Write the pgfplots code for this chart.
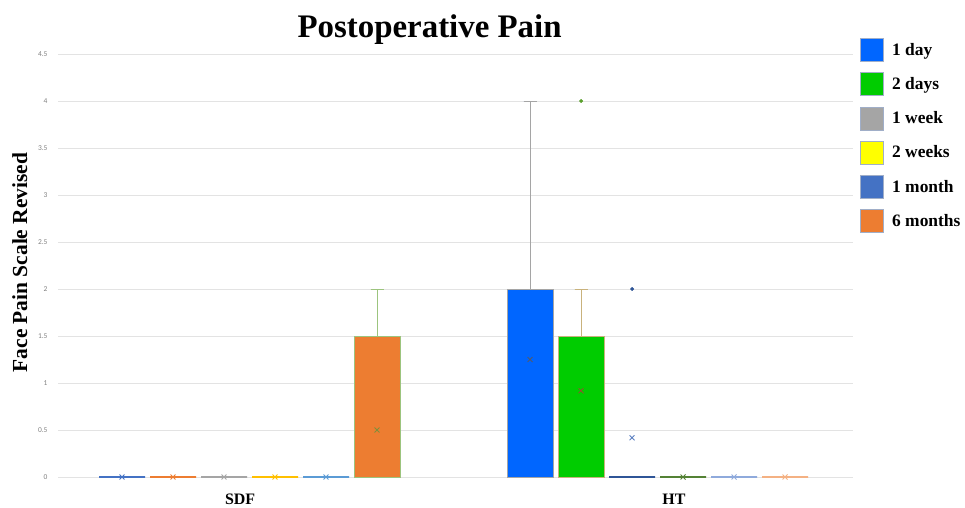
\documentclass[border=0pt]{standalone}
\usepackage{fontspec}
\setmainfont{Liberation Serif}
\newfontfamily\tickfont{Carlito}
\usepackage{pgfplots}
\pgfplotsset{compat=1.18}
\usepgfplotslibrary{statistics}
\definecolor{fday}{HTML}{0066FF}
\definecolor{fdays}{HTML}{00CC00}
\definecolor{fweek}{HTML}{A5A5A5}
\definecolor{fweeks}{HTML}{FFFF00}
\definecolor{fmonth}{HTML}{4472C4}
\definecolor{fmonths}{HTML}{ED7D31}
\definecolor{lgborder}{HTML}{A0AEC8}
\definecolor{sA}{HTML}{4472C4}
\definecolor{sB}{HTML}{ED7D31}
\definecolor{sC}{HTML}{A5A5A5}
\definecolor{sD}{HTML}{FFC000}
\definecolor{sE}{HTML}{5B9BD5}
\definecolor{sF}{HTML}{9CC47E}
\definecolor{sFx}{HTML}{7F8F3A}
\definecolor{hA}{HTML}{A5A5A5}
\definecolor{hAx}{HTML}{505A70}
\definecolor{hB}{HTML}{C9B27C}
\definecolor{hBx}{HTML}{8B5A2B}
\definecolor{hBo}{HTML}{5BA02E}
\definecolor{hC}{HTML}{2F5597}
\definecolor{hCx}{HTML}{5B7FC0}
\definecolor{hD}{HTML}{548235}
\definecolor{hE}{HTML}{8FAADC}
\definecolor{hF}{HTML}{F4B183}
\definecolor{gridc}{HTML}{E3E3E3}
\begin{document}
\begin{tikzpicture}
\path[use as bounding box] (-58bp,-31bp) rectangle (907bp,477bp);
\begin{axis}[
  at={(0,0)}, anchor=south west,
  scale only axis, width=795bp, height=423bp,
  xmin=-0.4694, xmax=1.479, ymin=0, ymax=4.5,
  clip=false,
  ytick={0,0.5,1,1.5,2,2.5,3,3.5,4,4.5},
  xtick={-0.023,1.04}, xticklabels={SDF,HT},
  axis line style={draw=none},
  major tick length=0pt,
  ymajorgrids, major grid style={draw=gridc, line width=0.8bp},
  /pgf/number format/assume math mode=true,
  yticklabel style={font=\tickfont\fontsize{7.5}{9}\selectfont, text=gray, xshift=-7bp},
  xticklabel style={font=\fontsize{16}{18}\selectfont\bfseries, anchor=base, yshift=-27bp},
  ylabel={Face Pain Scale Revised},
  ylabel style={at={(axis description cs:-0.048,0.507)}, anchor=center, font=\fontsize{21.5}{24}\selectfont\bfseries},
  title={Postoperative Pain},
  title style={at={(axis description cs:0.4674,1.026)}, anchor=base, yshift=0pt, font=\fontsize{33}{36}\selectfont\bfseries},
  legend image code/.code={\draw[#1, line width=0.7bp] (0bp,-11.5bp) rectangle (23bp,11.5bp);},
  legend style={draw=none, fill=none, at={(axis description cs:1.0085,1.038)}, anchor=north west,
    font=\fontsize{17.5}{20}\selectfont\bfseries, row sep=10.5bp, inner sep=0pt,
    nodes={inner sep=1.5pt},
    /tikz/every odd column/.append style={column sep=7bp}},
  legend cell align=left,
  boxplot/draw direction=y,
  boxplot/box extend=0.1127,
  boxplot/whisker extend=0.032,
]
\addlegendimage{fill=fday, draw=lgborder}\addlegendentry{1 day}
\addlegendimage{fill=fdays, draw=lgborder}\addlegendentry{2 days}
\addlegendimage{fill=fweek, draw=lgborder}\addlegendentry{1 week}
\addlegendimage{fill=fweeks, draw=lgborder}\addlegendentry{2 weeks}
\addlegendimage{fill=fmonth, draw=lgborder}\addlegendentry{1 month}
\addlegendimage{fill=fmonths, draw=lgborder}\addlegendentry{6 months}

% ---------- SDF ----------
\addplot[forget plot, draw=sA, fill=fday, line width=1.3bp, boxplot prepared={draw position=-0.3125,
  lower whisker=0, lower quartile=0, median=0, upper quartile=0, upper whisker=0}] coordinates {};
\addplot[forget plot, draw=sB, fill=fdays, line width=1.3bp, boxplot prepared={draw position=-0.1875,
  lower whisker=0, lower quartile=0, median=0, upper quartile=0, upper whisker=0}] coordinates {};
\addplot[forget plot, draw=sC, fill=fweek, line width=1.3bp, boxplot prepared={draw position=-0.0625,
  lower whisker=0, lower quartile=0, median=0, upper quartile=0, upper whisker=0}] coordinates {};
\addplot[forget plot, draw=sD, fill=fweeks, line width=1.3bp, boxplot prepared={draw position=0.0625,
  lower whisker=0, lower quartile=0, median=0, upper quartile=0, upper whisker=0}] coordinates {};
\addplot[forget plot, draw=sE, fill=fmonth, line width=1.3bp, boxplot prepared={draw position=0.1875,
  lower whisker=0, lower quartile=0, median=0, upper quartile=0, upper whisker=0}] coordinates {};
\addplot[forget plot, draw=sF, fill=fmonths, line width=1.0bp, boxplot prepared={draw position=0.3125,
  lower whisker=0, lower quartile=0, median=0, upper quartile=1.5, upper whisker=2}] coordinates {};

% ---------- HT ----------
\addplot[forget plot, draw=hA, fill=fday, line width=1.0bp, boxplot prepared={draw position=0.6875,
  lower whisker=0, lower quartile=0, median=0, upper quartile=2, upper whisker=4}] coordinates {};
\addplot[forget plot, draw=hB, fill=fdays, line width=1.0bp, boxplot prepared={draw position=0.8125,
  lower whisker=0, lower quartile=0, median=0, upper quartile=1.5, upper whisker=2}] coordinates {};
\addplot[forget plot, draw=hC, fill=fweek, line width=1.3bp, boxplot prepared={draw position=0.9375,
  lower whisker=0, lower quartile=0, median=0, upper quartile=0, upper whisker=0}] coordinates {};
\addplot[forget plot, draw=hD, fill=fweeks, line width=1.3bp, boxplot prepared={draw position=1.0625,
  lower whisker=0, lower quartile=0, median=0, upper quartile=0, upper whisker=0}] coordinates {};
\addplot[forget plot, draw=hE, fill=fmonth, line width=1.3bp, boxplot prepared={draw position=1.1875,
  lower whisker=0, lower quartile=0, median=0, upper quartile=0, upper whisker=0}] coordinates {};
\addplot[forget plot, draw=hF, fill=fmonths, line width=1.3bp, boxplot prepared={draw position=1.3125,
  lower whisker=0, lower quartile=0, median=0, upper quartile=0, upper whisker=0}] coordinates {};

% ---------- means (x) ----------
\addplot[forget plot, only marks, mark=x, mark size=3.5bp, mark options={draw=sA, line width=0.9bp}] coordinates {(-0.3125,0)};
\addplot[forget plot, only marks, mark=x, mark size=3.5bp, mark options={draw=sB, line width=0.9bp}] coordinates {(-0.1875,0)};
\addplot[forget plot, only marks, mark=x, mark size=3.5bp, mark options={draw=sC, line width=0.9bp}] coordinates {(-0.0625,0)};
\addplot[forget plot, only marks, mark=x, mark size=3.5bp, mark options={draw=sD, line width=0.9bp}] coordinates {(0.0625,0)};
\addplot[forget plot, only marks, mark=x, mark size=3.5bp, mark options={draw=sE, line width=0.9bp}] coordinates {(0.1875,0)};
\addplot[forget plot, only marks, mark=x, mark size=3.5bp, mark options={draw=sFx, line width=0.9bp}] coordinates {(0.3125,0.5)};
\addplot[forget plot, only marks, mark=x, mark size=3.5bp, mark options={draw=hAx, line width=0.9bp}] coordinates {(0.6875,1.25)};
\addplot[forget plot, only marks, mark=x, mark size=3.5bp, mark options={draw=hBx, line width=0.9bp}] coordinates {(0.8125,0.917)};
\addplot[forget plot, only marks, mark=x, mark size=3.5bp, mark options={draw=hCx, line width=0.9bp}] coordinates {(0.9375,0.417)};
\addplot[forget plot, only marks, mark=x, mark size=3.5bp, mark options={draw=hD, line width=0.9bp}] coordinates {(1.0625,0)};
\addplot[forget plot, only marks, mark=x, mark size=3.5bp, mark options={draw=hE, line width=0.9bp}] coordinates {(1.1875,0)};
\addplot[forget plot, only marks, mark=x, mark size=3.5bp, mark options={draw=hF, line width=0.9bp}] coordinates {(1.3125,0)};

% ---------- outliers ----------
\addplot[forget plot, only marks, mark=*, mark size=1.7bp, mark options={draw=hBo, fill=hBo}] coordinates {(0.8125,4)};
\addplot[forget plot, only marks, mark=*, mark size=1.7bp, mark options={draw=hC, fill=hC}] coordinates {(0.9375,2)};
\end{axis}
\end{tikzpicture}
\end{document}
